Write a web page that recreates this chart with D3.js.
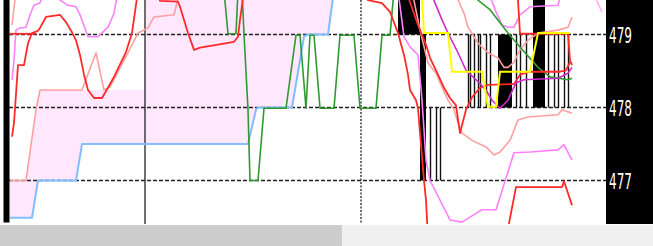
<!DOCTYPE html>
<html>
<head>
<meta charset="utf-8">
<script src="https://cdn.jsdelivr.net/npm/d3@7"></script>
<style>
  html, body { margin: 0; padding: 0; background: #fff; overflow: hidden; }
</style>
</head>
<body>
<script>
// price levels shown on the right scale
let priceTicks = [477, 478, 479]

// period separators (bar numbers)
let solidMarks = [72.5]
let dottedMarks = [180.5]

// each series is a list of [bar, price]
let cloudTop = [[5,477.00],[13,477.00],[18,477.97],[20,478.24],[72,478.24],[73,479.6],[167,479.6]]
let blueLine = [[5,476.49],[16,476.49],[19,477.00],[38,477.00],[41,477.50],[124,477.50],[128,477.97],[129,478.00],
                [146,478.00],[152,478.97],[154,479.00],[164,479.00],[167,479.6]]

let salmonLeft = [[5,477.00],[13,477.00],[18,477.97],[20,478.24],[41,478.24],[48,478.75],[52,478.24],[55,478.28],
                  [64,478.75],[69,479.02],[74,479.09],[77,479.24],[87,479.27],[90,479.6]]
let salmonCorner = [[6,479.13],[8,479.6]]
let salmonUpper = [[227,479.6],[232,479.29],[234,479.10],[239,478.88],[244,478.75],[249,478.68],[252,478.55],
                   [254,478.55],[257,478.62],[260,478.79],[264,478.92],[269,479.02],[279,479.06],[284,479.10],[286,479.24]]
let salmonLower = [[206,479.6],[210,479.06],[214,478.61],[218,478.47],[221,478.28],[224,478.10],[227,477.97],
                   [229,477.79],[231,477.65],[236,477.55],[243,477.46],[247,477.35],[250,477.39],[255,477.55],
                   [259,477.83],[264,477.87],[279,477.90],[281,477.97],[286,477.92]]

let pinkLeft = [[6,478.38],[7,478.65],[8,479.06],[10,479.09],[13,479.10],[15,479.27],[17,479.40],[20,479.43],
                [22,479.6],[29,479.6],[30,479.47],[34,479.40],[38,479.38],[40,479.27],[44,478.97],[49,478.97],
                [54,479.10],[57,479.29],[59,479.6]]
let pinkRight = [[199,479.6],[202,478.97],[205,478.83],[209,478.72],[211,478.10],[213,477.28],[215,477.00],
                 [220,476.73],[225,476.46],[231,476.43],[238,476.55],[241,476.60],[248,476.60],[257,477.38],
                 [265,477.39],[279,477.42],[282,477.49],[286,477.28]]
let pinkTop = [[244,479.6],[248,479.31],[251,479.13],[254,479.10],[257,479.10],[260,479.27],[265,479.38],
               [279,479.40],[281,479.6]]
let pinkEdge = [[296,479.6],[301,479.31]]
let magentaLine = [[215,479.6],[221,479.20],[224,479.02],[229,478.75],[233,478.51],[238,478.38],[243,478.24],
                   [246,478.10],[250,477.99],[254,478.10],[258,478.34],[262,478.38],[279,478.40],[284,478.47],[286,478.55]]

let redMain = [[6,477.60],[7,477.79],[9,478.58],[12,478.58],[14,478.88],[16,479.02],[19,479.05],[20,479.09],
               [23,479.24],[30,479.27],[33,479.17],[36,479.03],[38,478.92],[40,478.72],[42,478.45],[44,478.24],
               [47,478.13],[51,478.13],[54,478.27],[57,478.42],[63,478.76],[66,479.02],[69,479.6],[79,479.6],
               [80,479.46],[89,479.45],[90,479.38],[94,479.02],[97,478.79],[100,478.82],[109,478.86],[117,478.90],
               [119,478.97],[120,479.20],[122,479.6],[183,479.6],[184,479.47],[191,479.43],[195,479.31],
               [199,479.02],[202,478.72],[204,478.45],[205,478.24],[208,478.10],[209,477.99],[210,477.65],
               [212,477.00],[213,476.73],[214,476.2]]
let redBand = [[5,479.01],[18,479.01]]
let redMid = [[203,479.6],[209,479.13],[213,478.86],[215,478.68],[219,478.45],[222,478.27],[225,478.13],
              [228,478.03],[230,477.65],[233,477.97],[236,478.14],[240,478.27],[244,478.31],[257,478.32],
              [260,478.45],[265,478.49],[280,478.49],[283,478.51],[285,478.62]]
let redUpper = [[258,479.6],[259,479.47],[260,479.01],[284,479.01],[285,478.65],[286,478.58]]
let redLower = [[253,476.2],[258,476.91],[281,476.91],[282,476.99],[286,476.66]]

let greenLine = [[112,479.6],[114,479.01],[118,479.01],[119,479.6],[121,479.6],[122,479.01],[124,477.97],
                 [125,477.00],[129,477.00],[132,477.99],[143,477.99],[148,478.99],[150,478.99],[153,477.99],
                 [155,478.99],[157,478.99],[160,477.99],[167,477.99],[170,478.99],[177,478.99],[180,477.99],
                 [188,477.99],[191,478.99],[195,478.99],[197,479.6],[238,479.6],[239,479.47],[245,479.34],
                 [254,479.02],[260,478.83],[269,478.55],[275,478.42],[284,478.38],[286,478.40]]
let yellowLine = [[210,479.6],[211,479.47],[212,479.02],[224,479.02],[226,478.49],[241,478.49],[244,478.01],
                  [248,478.01],[250,478.49],[265,478.49],[269,479.02],[285,479.02]]

// black price bars: [bar, low, high] and solid runs: [firstBar, lastBar, low, high]
let priceBars = [[215,477.0,478.0],[218,477.0,478.0],[220,477.0,478.0],
                 [234,478.0,479.0],[235,478.0,479.0],[237,478.0,479.0],[239,478.0,479.0],[240,478.0,479.0],
                 [243,478.0,479.0],[245,478.0,479.0],[258,478.0,479.0],[260,478.0,479.0],[263,478.0,479.0],
                 [274,478.0,479.0],[277,478.0,479.0],[279,478.0,479.0],[282,478.0,479.0],[284,478.0,479.0]]
let barRuns = [[199,210,479.0,479.6],[210,213,477.0,479.0],[249,256,478.0,479.0],[266.5,272.5,478.0,479.6]]

function main(){

    let width = 653
    let height = 246
    let plotLeft = 9
    let plotRight = 606
    let plotBottom = 224

    let x = d3.scaleLinear()
                .domain([3, 303])          // bar numbers in the window
                .range([6, 606])
    let y = d3.scaleLinear()
                .domain([477, 479])
                .range([180.5, 34.5])

    let svg = d3.select('body')
        .append('svg')
        .attr('width', width)
        .attr('height', height)
        .style('display', 'block')

    svg.append('rect')
        .attr('width', width).attr('height', height).attr('fill', '#ffffff')

    svg.append('clipPath').attr('id', 'plot')
        .append('rect')
        .attr('x', plotLeft).attr('y', 0)
        .attr('width', plotRight - plotLeft).attr('height', plotBottom)

    let plot = svg.append('g').attr('clip-path', 'url(#plot)')

    let line = d3.line()
                .x(function(d){ return x(d[0]) })
                .y(function(d){ return y(d[1]) })

    // pink cloud between the upper edge and the blue line
    plot.append('path')
        .attr('d', line(cloudTop.concat(blueLine.slice().reverse())) + 'Z')
        .attr('fill', '#ffe8fe')

    // dashed price grid
    plot.selectAll('.grid')
        .data(priceTicks)
        .enter()
        .append('line')
        .attr('x1', plotLeft).attr('x2', plotRight)
        .attr('y1', function(d){ return y(d) })
        .attr('y2', function(d){ return y(d) })
        .attr('stroke', '#222')
        .attr('stroke-width', 1.6)
        .attr('stroke-dasharray', '4,2')

    plot.selectAll('.solidMark')
        .data(solidMarks)
        .enter()
        .append('line')
        .attr('x1', function(d){ return x(d) }).attr('x2', function(d){ return x(d) })
        .attr('y1', 0).attr('y2', plotBottom)
        .attr('stroke', '#222')
        .attr('stroke-width', 1.3)

    plot.selectAll('.dotMark')
        .data(dottedMarks)
        .enter()
        .append('line')
        .attr('x1', function(d){ return x(d) }).attr('x2', function(d){ return x(d) })
        .attr('y1', 0).attr('y2', plotBottom)
        .attr('stroke', '#222')
        .attr('stroke-width', 1.3)
        .attr('stroke-dasharray', '2,1.5')

    // black bars
    plot.selectAll('.run')
        .data(barRuns)
        .enter()
        .append('rect')
        .attr('x', function(d){ return x(d[0]) })
        .attr('width', function(d){ return x(d[1]) - x(d[0]) })
        .attr('y', function(d){ return y(d[3]) })
        .attr('height', function(d){ return y(d[2]) - y(d[3]) })
        .attr('fill', '#000')

    plot.selectAll('.bar')
        .data(priceBars)
        .enter()
        .append('line')
        .attr('x1', function(d){ return x(d[0]) + 0.5 })
        .attr('x2', function(d){ return x(d[0]) + 0.5 })
        .attr('y1', function(d){ return y(d[2]) })
        .attr('y2', function(d){ return y(d[1]) })
        .attr('stroke', '#111')
        .attr('stroke-width', 1.4)

    function draw(data, colour, w){
        plot.append('path')
            .attr('d', line(data))
            .attr('fill', 'none')
            .attr('stroke', colour)
            .attr('stroke-width', w)
            .attr('stroke-linejoin', 'round')
    }

    draw(blueLine, '#82bdff', 2)
    draw(salmonLeft, '#ffa0a0', 1.6)
    draw(salmonCorner, '#ffa0a0', 1.6)
    draw(salmonUpper, '#ffa0a0', 1.6)
    draw(salmonLower, '#ffa0a0', 1.6)
    draw(pinkLeft, '#ff80ff', 1.6)
    draw(pinkRight, '#ff80ff', 1.6)
    draw(pinkTop, '#ff80ff', 1.6)
    draw(pinkEdge, '#ffb0ff', 1.6)
    draw(greenLine, '#2f9a2f', 1.6)
    draw(redBand, '#ff2a2a', 1.8)
    draw(redMain, '#ff2a2a', 1.8)
    draw(redMid, '#ff2a2a', 1.8)
    draw(redUpper, '#ff2a2a', 1.8)
    draw(redLower, '#ff2a2a', 1.8)
    draw(magentaLine, '#cc2ccc', 1.6)
    draw(yellowLine, '#ffff00', 2)

    // left edge bar
    svg.append('rect')
        .attr('x', 3.5).attr('y', 0).attr('width', 6).attr('height', 222.5)
        .attr('fill', '#000')

    // right price scale
    svg.append('rect')
        .attr('x', plotRight).attr('y', 0)
        .attr('width', width - plotRight).attr('height', plotBottom)
        .attr('fill', '#000')

    svg.selectAll('.tick')
        .data(priceTicks)
        .enter()
        .append('text')
        .attr('x', 609)
        .attr('y', function(d){ return y(d) + 8 })
        .attr('fill', '#fff')
        .attr('font-family', '"Liberation Sans Narrow", "DejaVu Sans Condensed", sans-serif')
        .attr('font-size', 21)
        .attr('textLength', 23)
        .attr('lengthAdjust', 'spacingAndGlyphs')
        .text(function(d){ return d })

    // scrollbar strip
    svg.append('rect')
        .attr('x', 0).attr('y', plotBottom + 1)
        .attr('width', width).attr('height', height - plotBottom - 1)
        .attr('fill', '#f0f0f0')
    svg.append('rect')
        .attr('x', 0).attr('y', plotBottom + 1)
        .attr('width', 342).attr('height', height - plotBottom - 1)
        .attr('fill', '#cdcdcd')
}

main()
</script>
</body>
</html>
